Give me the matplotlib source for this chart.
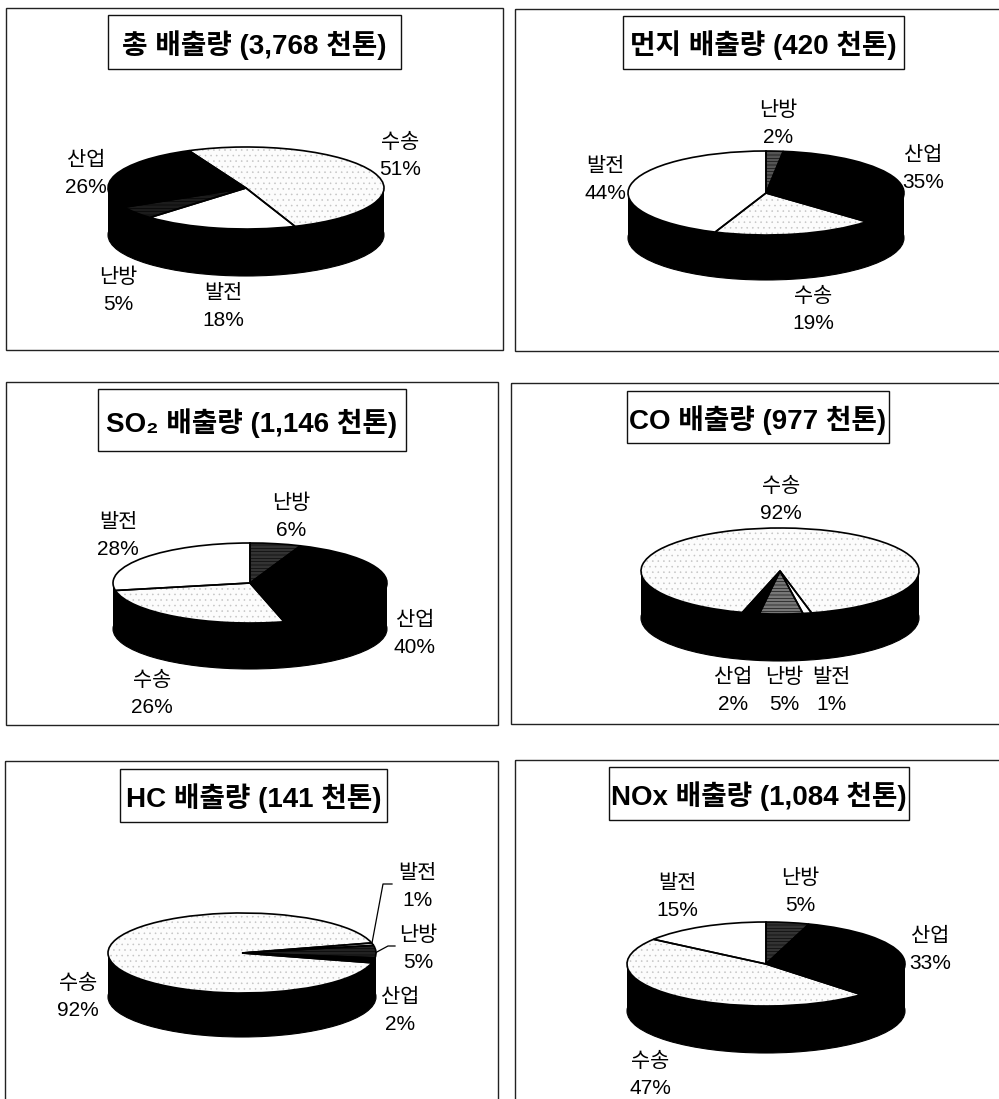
import matplotlib
matplotlib.use("Agg")
import matplotlib.pyplot as plt
from matplotlib.patches import Rectangle

plt.rcParams['font.family'] = ['Liberation Sans', 'Noto Sans CJK KR', 'DejaVu Sans']
plt.rcParams['hatch.linewidth'] = 0.4

W, H = 999, 1099

# order in every pie, clockwise
categories = ['난방', '산업', '수송', '발전']

titles = ['총 배출량 (3,768 천톤)', '먼지 배출량 (420 천톤)',
          'SO₂ 배출량 (1,146 천톤)', 'CO 배출량 (977 천톤)',
          'HC 배출량 (141 천톤)', 'NOx 배출량 (1,084 천톤)']

total_shares = [5, 26, 51, 18]
dust_shares = [2, 35, 19, 44]
so2_shares = [6, 40, 26, 28]
co_shares = [5, 2, 92, 1]
hc_shares = [5, 2, 92, 1]
nox_shares = [5, 33, 47, 15]
shares = [total_shares, dust_shares, so2_shares, co_shares, hc_shares, nox_shares]

# layout, all in pixels of the scan
frames = [(6, 8, 503, 350), (515, 9, 1003, 351), (6, 382, 498, 725),
          (511, 383, 1003, 724), (5, 761, 498, 1103), (515, 760, 1003, 1103)]
title_boxes = [(108, 15, 401, 69), (623, 16, 904, 69), (98, 389, 406, 451),
               (627, 391, 889, 443), (120, 769, 387, 822), (609, 767, 909, 820)]
# cx, cy, a, b, depth, clockwise angle from 12 o'clock where the first slice starts
pie_geom = [(246, 188, 138, 41, 47, 224), (766, 193, 138, 42, 45, 0),
            (250, 583, 137, 40, 46, 0), (780, 571, 139, 43, 47, 170.5),
            (242, 953, 134, 40, 44, 79), (766, 964, 139, 42, 47, 0)]
label_pos = [
    [(118, 291), (86, 174), (400, 156), (223, 307)],
    [(778, 124), (923, 169), (813, 310), (605, 180)],
    [(291, 517), (415, 634), (152, 694), (118, 536)],
    [(784, 691), (733, 691), (781, 500), (831, 691)],
    [(418, 949), (400, 1011), (78, 997), (417, 887)],
    [(800, 892), (930, 950), (650, 1075), (677, 897)],
]
heating_gray = ['#1c1c1c', '#555555', '#333333', '#777777', '#222222', '#333333']

fig = plt.figure(figsize=(W/100, H/100), dpi=100)
page = fig.add_axes([0, 0, 1, 1])
page.set_xlim(0, W)
page.set_ylim(H, 0)
page.axis('off')

for (x0, y0, x1, y1) in frames:
    page.add_patch(Rectangle((x0, y0), x1 - x0, y1 - y0, fill=False, ec='#222222', lw=1.0))

for (x0, y0, x1, y1), title in zip(title_boxes, titles):
    page.add_patch(Rectangle((x0, y0), x1 - x0, y1 - y0, fill=False, ec='#111111', lw=1.0))
    page.text((x0 + x1)/2, (y0 + y1)/2 + 3, title, ha='center', va='center',
              fontsize=20, fontweight='bold', color='black')

for i, (cx, cy, a, b, depth, start) in enumerate(pie_geom):
    ax = fig.add_axes([(cx - a)/W, 1 - (cy + b)/H, 2*a/W, 2*b/H])
    d = depth/b
    angle = 90 - start

    # black wall: lower disc plus a bar up to the top face
    ax.pie([1], radius=1, center=(0, -d), colors=['black'],
           wedgeprops={'lw': 0.8, 'edgecolor': 'black'})
    ax.bar(0, d, width=2, bottom=-d, color='black', lw=0)

    wedges, _ = ax.pie(shares[i], radius=1, startangle=angle, counterclock=False,
                       colors=[heating_gray[i], 'black', '#fcfcfc', 'white'],
                       wedgeprops={'lw': 0})
    wedges[0].set_hatch('-----')
    wedges[0].set_edgecolor('black')
    wedges[2].set_hatch('...')
    wedges[2].set_edgecolor('#c4c4c4')

    ax.pie(shares[i], radius=1, startangle=angle, counterclock=False,
           colors=['none']*4, wedgeprops={'lw': 1.2, 'edgecolor': 'black', 'fill': False})

    ax.set_aspect('auto')
    ax.set_xlim(-1, 1)
    ax.set_ylim(-1, 1)
    ax.axis('off')
    for p in ax.patches:
        p.set_clip_on(False)

    for cat, share, (lx, ly) in zip(categories, shares[i], label_pos[i]):
        page.text(lx, ly, f"{cat}\n{share}%", ha='center', va='center', fontsize=15,
                  linespacing=1.5, color='black', zorder=20)

# leader lines of the HC pie
page.plot([372, 383, 392], [943, 884, 884], color='black', lw=0.9)
page.plot([375, 388, 395], [953, 946, 946], color='black', lw=0.9)

fig.savefig('out.png', dpi=100)
